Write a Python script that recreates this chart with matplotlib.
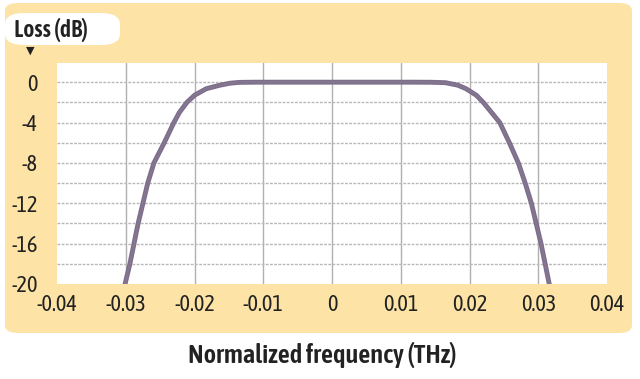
import matplotlib.pyplot as plt
from matplotlib.patches import FancyBboxPatch

# Filter passband (frequency in THz, loss in dB)
freq = [-0.0301, -0.0294, -0.0288, -0.0282, -0.0275, -0.0268, -0.0259, -0.0244,
        -0.0230, -0.0222, -0.0211, -0.0200, -0.0183, -0.0163, -0.0148, -0.0135,
        -0.0110, 0.0, 0.0120, 0.0145, 0.0165, 0.0183, 0.0195, 0.0210,
        0.0220, 0.0232, 0.0244, 0.0258, 0.0271, 0.0281, 0.0290, 0.0297,
        0.0304, 0.0310, 0.0316]
loss = [-20.0, -18.0, -16.0, -14.0, -12.0, -10.0, -8.0, -6.0,
        -4.0, -3.0, -2.0, -1.3, -0.65, -0.3, -0.1, -0.02,
        0.0, 0.0, 0.0, -0.01, -0.05, -0.3, -0.65, -1.3,
        -2.0, -3.0, -4.0, -6.0, -8.0, -10.0, -12.0, -14.0,
        -16.0, -18.0, -20.0]
xticks = [-0.04, -0.03, -0.02, -0.01, 0, 0.01, 0.02, 0.03, 0.04]
xlabels = ['-0.04', '-0.03', '-0.02', '-0.01', '0', '0.01', '0.02', '0.03', '0.04']
yticks = [0, -4, -8, -12, -16, -20]
ylabels = ['0', '-4', '-8', '-12', '-16', '-20']

plt.rcParams['font.family'] = ['Asap Condensed', 'DejaVu Sans']
plt.rcParams['axes.unicode_minus'] = False

fig = plt.figure(figsize=(6.4, 3.79), dpi=100)
W, H = 640, 379

# orange panel
fig.patches.append(FancyBboxPatch((5 / W, 1 - 333 / H), 627 / W, 330 / H,
                                  boxstyle='round,pad=0,rounding_size=0.02',
                                  transform=fig.transFigure, fc='#fde4a6', ec='none', zorder=-2))
# white label box
fig.patches.append(FancyBboxPatch((5 / W, 1 - 45 / H), 115 / W, 32 / H,
                                  boxstyle='round,pad=0,rounding_size=0.03',
                                  transform=fig.transFigure, fc='white', ec='none', zorder=-1))
fig.text(14 / W, 1 - 30 / H, 'Loss (dB)', fontsize=17, fontweight=600,
         va='center', ha='left', color='#222222')
fig.text(30 / W, 1 - 51 / H, '\u25BC', fontsize=8, va='center', ha='center', color='#222222',
         family='DejaVu Sans')

ax = fig.add_axes([57 / W, 1 - 284 / H, 550 / W, 221 / H], zorder=2)
ax.set_facecolor('white')
ax.set_xlim(-0.04, 0.04)
ax.set_ylim(-20, 1.9)

for x in xticks[1:-1]:
    ax.axvline(x, color='#b0b0b0', lw=1.0, zorder=1)
for y in range(-18, 1, 2):
    ax.axhline(y, color='#b8b8b8', lw=1.0, ls=(0, (2, 1)), zorder=1)

ax.plot(freq, loss, color='#7c6d8c', lw=3.5, solid_joinstyle='round', zorder=3)
ax.plot(freq, loss, color='#a07a90', lw=1.4, alpha=0.8, zorder=4)
ax.plot(freq, loss, color='#6a7a8e', lw=0.7, alpha=0.8, zorder=5)

ax.set_xticks(xticks)
ax.set_xticklabels(xlabels)
ax.set_yticks(yticks)
ax.set_yticklabels(ylabels)
ax.tick_params(length=0, labelsize=16, colors='#222222', pad=7)
ax.tick_params(axis='y', pad=14)
for s in ax.spines.values():
    s.set_visible(False)

fig.text(322 / W, 1 - 355 / H, 'Normalized frequency (THz)', fontsize=19,
         fontweight=600, ha='center', va='center', color='#222222')

fig.savefig('out.png', dpi=100, facecolor='white')
